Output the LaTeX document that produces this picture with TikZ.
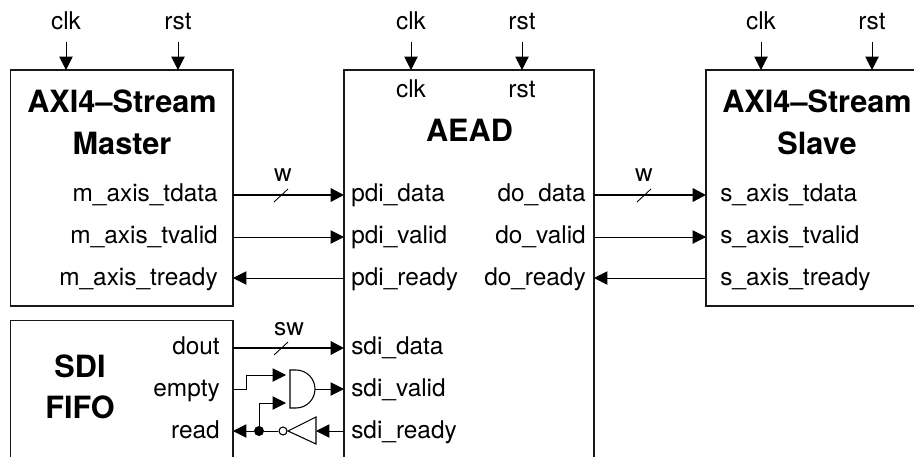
\documentclass[tikz,border=0pt]{standalone}
\usepackage{fontspec}
\setmainfont{TeX Gyre Heros}
\usetikzlibrary{arrows.meta,calc}
\tikzset{
  px/.style={x=0.75pt,y=-0.75pt},
  wire/.style={line width=0.75pt,-{Triangle[length=10pt,width=10pt]}},
  plain/.style={line width=0.75pt},
  bus/.style={line width=1.8pt,-{Triangle[length=10pt,width=10pt]}},
  blockline/.style={line width=0.8pt,draw=black!90},
  sig/.style={inner sep=0pt,font=\fontsize{18.3}{18.3}\selectfont},
  title/.style={inner sep=0pt,font=\fontsize{23}{23}\selectfont\bfseries},
  slash/.style={line width=0.65pt},
  dotnode/.style={circle,fill=black,inner sep=0pt,minimum size=7.5pt},
  bubble/.style={circle,draw,fill=white,line width=0.8pt,inner sep=0pt,minimum size=6pt},
}
\begin{document}
\begin{tikzpicture}[px]
\useasboundingbox (0,0) rectangle (914,457);
% blocks
\draw[blockline] (10.5,70) rectangle (233,306);
\draw[blockline] (10.5,457) -- (10.5,320.5) -- (233,320.5) -- (233,457);
\draw[blockline] (344,457) -- (344,70) -- (594,70) -- (594,457);
\draw[blockline] (914,70) -- (706,70) -- (706,306) -- (914,306);
% titles
\node[title,anchor=base] (t1) at (122,112) {AXI4–Stream};
\node[title,anchor=base] (t2) at (122,154) {Master};
\node[title,anchor=base] (t3) at (469.5,141) {AEAD};
\node[title,anchor=base] (t4) at (817,112) {AXI4–Stream};
\node[title,anchor=base] (t5) at (817,154) {Slave};
\node[title,anchor=base] (t6) at (80,377) {SDI};
\node[title,anchor=base] (t7) at (80,418) {FIFO};
% clock/reset
\foreach \n/\x/\t in {c1/66/clk,r1/178/rst,c2/411/clk,r2/522/rst,c3/761/clk,r3/872/rst}{
  \node[sig,anchor=base] (\n) at (\x,29.5) {\t};
  \coordinate (\n s) at (\x,42);
  \coordinate (\n e) at (\x,70);
  \draw[wire] (\n s) -- (\n e);
}
\node[sig,anchor=base] (ic) at (411,97.5) {clk};
\node[sig,anchor=base] (ir) at (522,97.5) {rst};
% master ports
\node[sig,anchor=base east] (m1) at (218,201.5) {m\_axis\_tdata};
\node[sig,anchor=base east] (m2) at (218,243.5) {m\_axis\_tvalid};
\node[sig,anchor=base east] (m3) at (218,285.5) {m\_axis\_tready};
% AEAD left ports
\node[sig,anchor=base west] (p1) at (351,201.5) {pdi\_data};
\node[sig,anchor=base west] (p2) at (351,243.5) {pdi\_valid};
\node[sig,anchor=base west] (p3) at (351,285.5) {pdi\_ready};
\node[sig,anchor=base west] (p4) at (351,354.5) {sdi\_data};
\node[sig,anchor=base west] (p5) at (351,396.5) {sdi\_valid};
\node[sig,anchor=base west] (p6) at (351,438.5) {sdi\_ready};
% AEAD right ports
\node[sig,anchor=base east] (d1) at (586,201.5) {do\_data};
\node[sig,anchor=base east] (d2) at (586,243.5) {do\_valid};
\node[sig,anchor=base east] (d3) at (586,285.5) {do\_ready};
% slave ports
\node[sig,anchor=base west] (s1) at (720,201.5) {s\_axis\_tdata};
\node[sig,anchor=base west] (s2) at (720,243.5) {s\_axis\_tvalid};
\node[sig,anchor=base west] (s3) at (720,285.5) {s\_axis\_tready};
% fifo ports
\node[sig,anchor=base east] (f1) at (220,354.5) {dout};
\node[sig,anchor=base east] (f2) at (220,396.5) {empty};
\node[sig,anchor=base east] (f3) at (220,438.5) {read};
% connector anchors
\coordinate (mR1) at (233,195); \coordinate (aL1) at (344,195);
\coordinate (mR2) at (233,237); \coordinate (aL2) at (344,237);
\coordinate (mR3) at (233,278); \coordinate (aL3) at (344,278);
\coordinate (aR1) at (594,195); \coordinate (sL1) at (706,195);
\coordinate (aR2) at (594,237); \coordinate (sL2) at (706,237);
\coordinate (aR3) at (594,278); \coordinate (sL3) at (706,278);
\coordinate (fR1) at (233,348); \coordinate (aL4) at (344,348);
\coordinate (fR2) at (233,389); \coordinate (aL5) at (344,389);
\coordinate (fR3) at (233,431); \coordinate (aL6) at (344,431);
% connectors
\draw[bus] (mR1) -- (aL1);
\draw[wire] (mR2) -- (aL2);
\draw[wire] (aL3) -- (mR3);
\draw[bus] (aR1) -- (sL1);
\draw[wire] (aR2) -- (sL2);
\draw[wire] (sL3) -- (aR3);
\draw[bus] (fR1) -- (aL4);
% width marks
\draw[slash] (274,202) -- (288,189);
\draw[slash] (637,202) -- (651,189);
\draw[slash] (274,355) -- (288,342);
\node[sig,anchor=base] (w1) at (283,181) {w};
\node[sig,anchor=base] (w2) at (644,181) {w};
\node[sig,anchor=base] (w3) at (289,335) {sw};
% AND gate
\draw[line width=0.8pt] (290,370) -- (296,370) arc[start angle=-90,end angle=90,radius=19] -- (290,408) -- cycle;
\coordinate (andA) at (286,375);
\coordinate (andB) at (286,403);
\coordinate (andO) at (315,389);
\draw[wire] (fR2) -- (246,389) -- (246,375) -- (andA);
\draw[wire] (andO) -- (aL5);
% inverter
\draw[line width=0.8pt] (288,431) -- (316,417) -- (316,444) -- cycle;
\coordinate (invI) at (316,431);
\node[bubble] (bub) at (283,431) {};
\node[dotnode] (jn) at (259,431) {};
\draw[wire] (aL6) -- (invI);
\draw[plain] (bub) -- (jn);
\draw[wire] (jn) -- (fR3);
\draw[wire] (jn) |- (andB);
\end{tikzpicture}
\end{document}
